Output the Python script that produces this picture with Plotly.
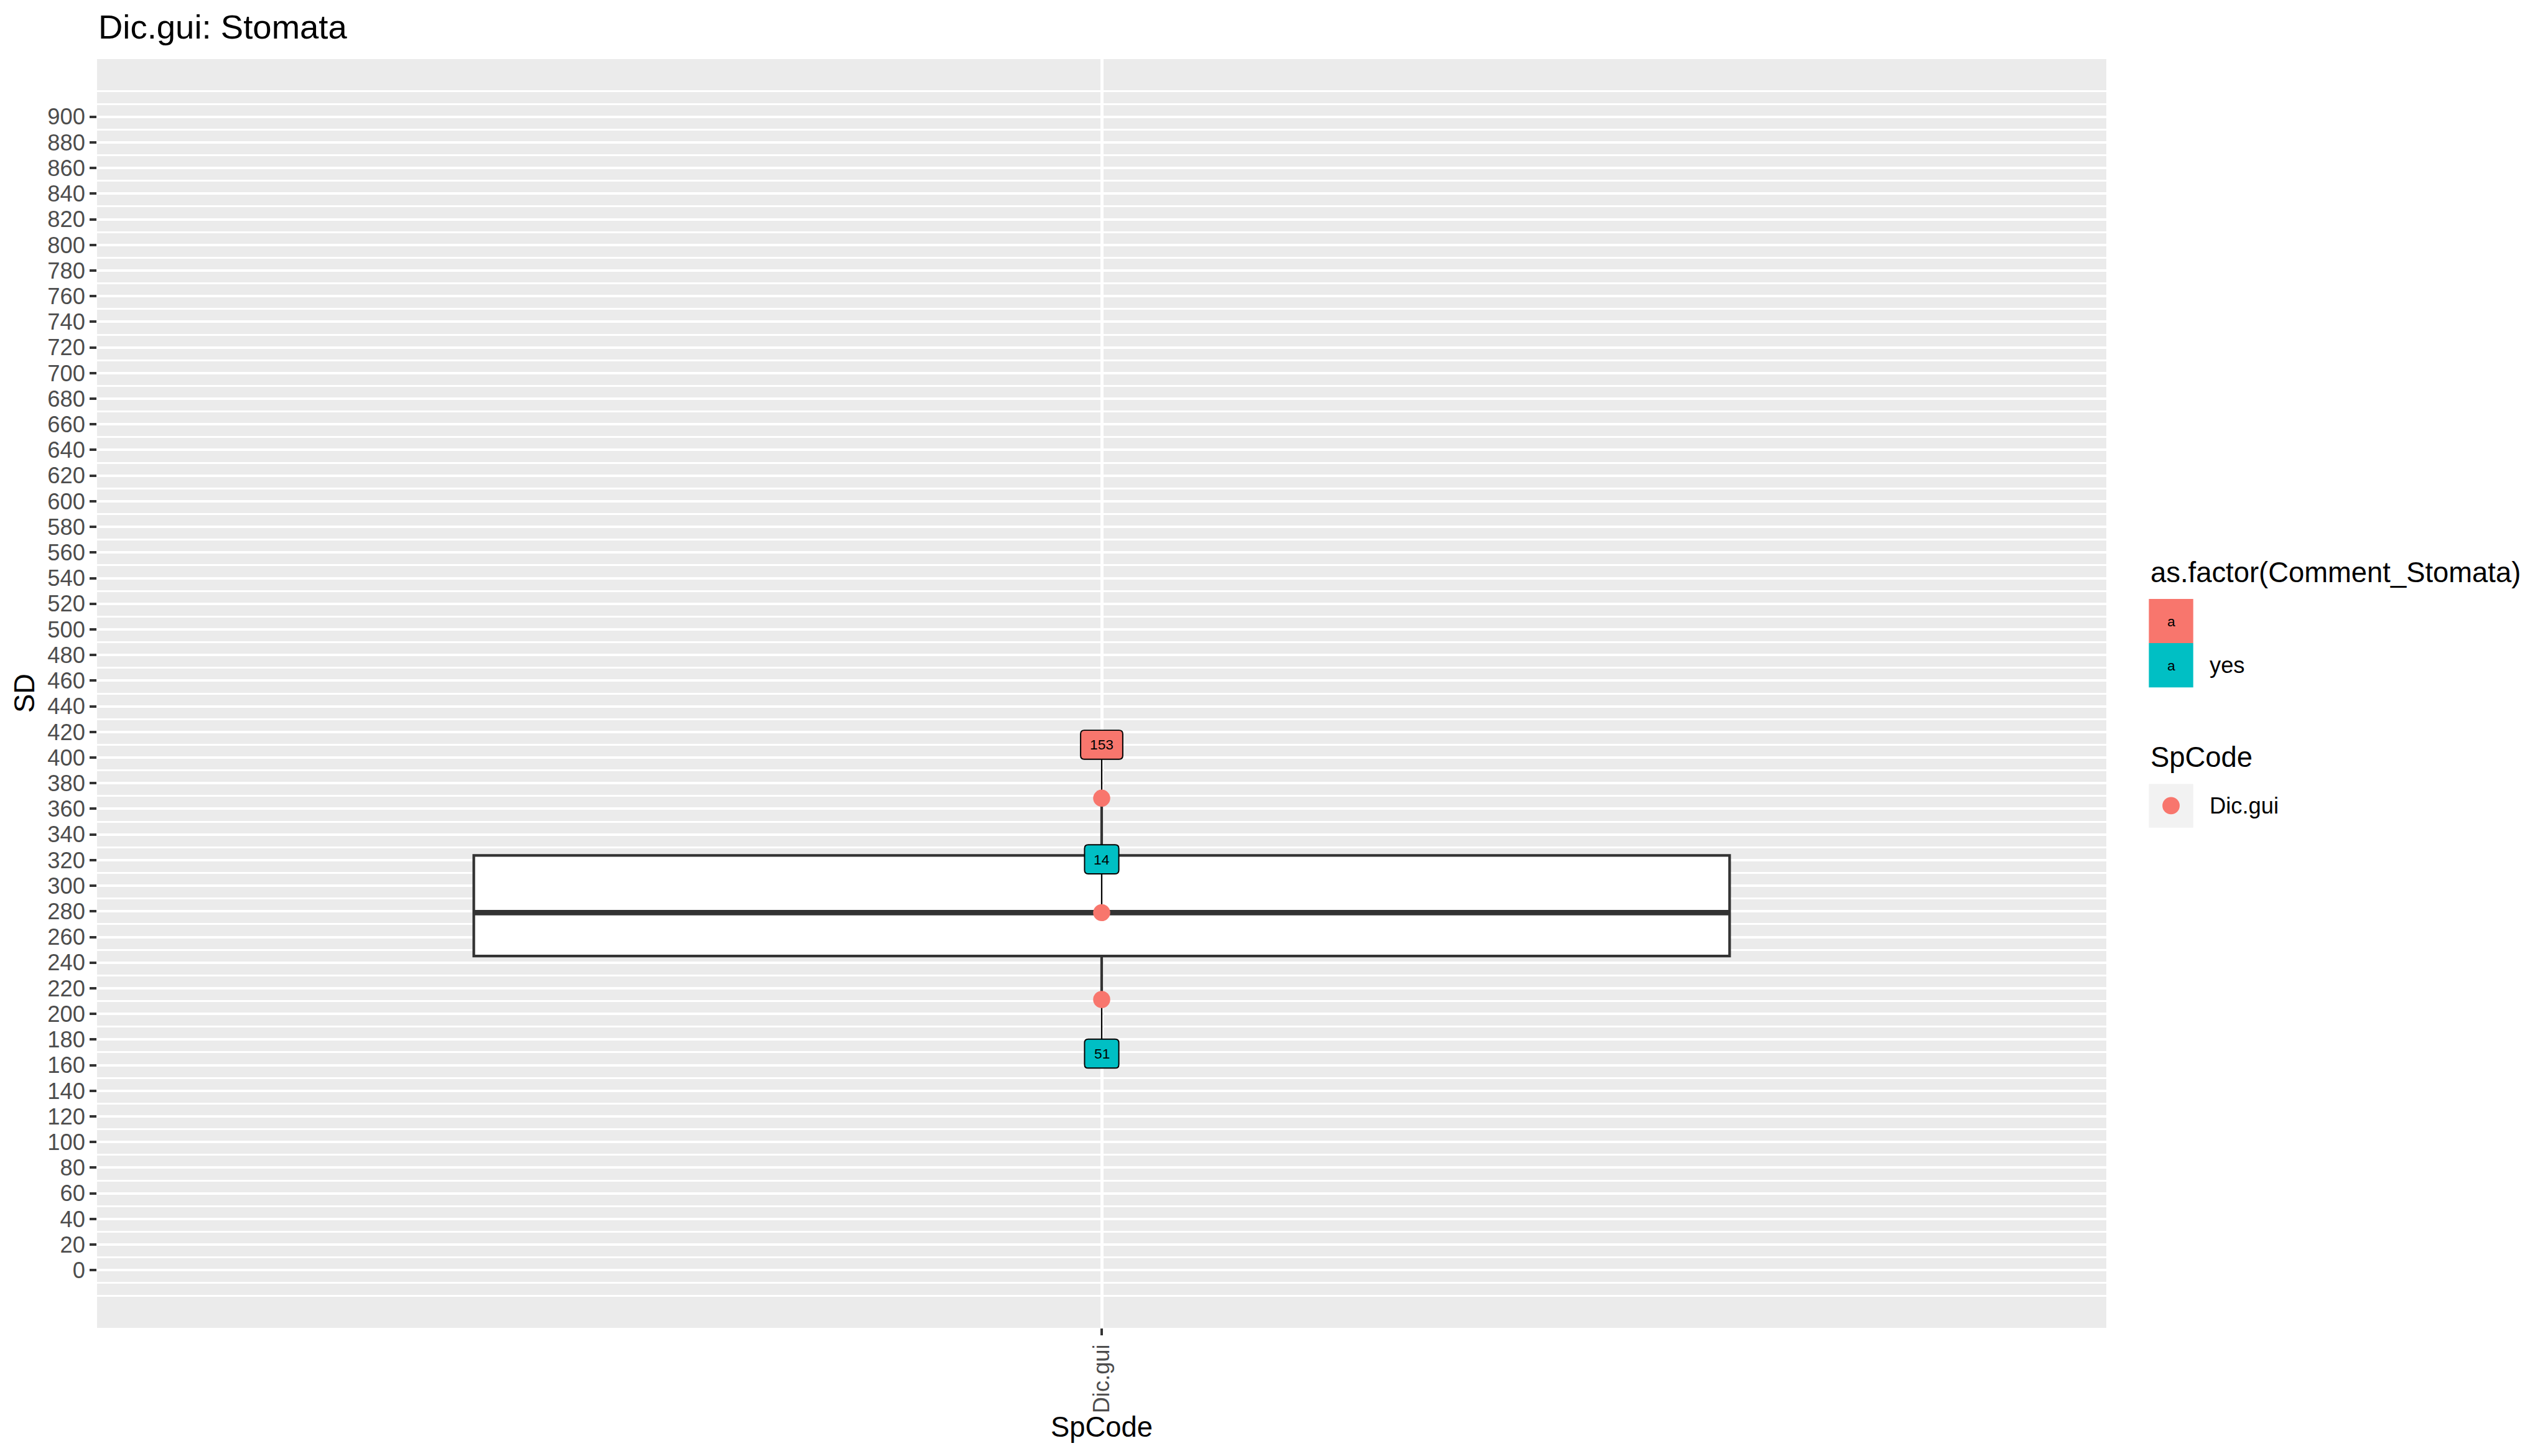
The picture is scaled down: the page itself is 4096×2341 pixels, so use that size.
import numpy as np
import plotly.graph_objects as go

# ---------------- data ----------------
species = ["Dic.gui"]
sd_values = [368.3, 279.0, 211.2]
sample_ids = ["153", "14", "51"]
comment_stomata = ["", "yes", "yes"]
label_y = [410.0, 320.6, 169.0]          # repelled label positions
comment_levels = ["", "yes"]
y_breaks = list(range(0, 901, 20))
y_minor = [-20, -10] + list(range(10, 900, 20)) + [910, 920]

# ---------------- geometry ----------------
W, H = 4096, 2341
S = 0.991
L, R, T, B = 157 * S, W - 3417 * S, 96 * S, H - 2154 * S
PW, PH = W - L - R, H - T - B

def px(x):
    return (x * S - L) / PW

def py(y):
    return (H - B - y * S) / PH

FONT = "Liberation Sans, Arial, sans-serif"
RED, CYAN = "#F8766D", "#00BFC4"
colour_map = {"": RED, "yes": CYAN}

# ---------------- box stats ----------------
v = np.array(sd_values)
q1, med, q3 = np.percentile(v, [25, 50, 75])
iqr = q3 - q1
lo = v[v >= q1 - 1.5 * iqr].min()
hi = v[v <= q3 + 1.5 * iqr].max()
box_w = 0.75

fig = go.Figure()
fig.add_trace(go.Box(
    x=[0], q1=[q1], median=[med], q3=[q3], lowerfence=[lo], upperfence=[hi],
    width=box_w, whiskerwidth=0, fillcolor="white",
    line=dict(color="#333333", width=4.3 * S), boxpoints=False,
    hoverinfo="skip", showlegend=False,
))
# thick median
fig.add_trace(go.Scatter(
    x=[-box_w / 2, box_w / 2], y=[med, med], mode="lines",
    line=dict(color="#333333", width=8.9 * S), hoverinfo="skip", showlegend=False,
))
# repel segments
seg_x, seg_y = [], []
for yl, yv in zip(label_y, sd_values):
    seg_x += [0, 0, None]
    seg_y += [yl, yv, None]
fig.add_trace(go.Scatter(
    x=seg_x, y=seg_y, mode="lines", line=dict(color="black", width=2.3 * S),
    hoverinfo="skip", showlegend=False,
))
# points
fig.add_trace(go.Scatter(
    x=[0] * len(sd_values), y=sd_values, mode="markers",
    marker=dict(color=RED, size=27.7 * S, line=dict(width=0)),
    showlegend=False,
))

shapes = []
annotations = []

# labels (rounded boxes)
lab_fs = 22.8
for txt, yl, cm in zip(sample_ids, label_y, comment_stomata):
    w = (len(txt) * 0.556 * lab_fs + 2 * 15 * S) / 2
    h = 46.6 / 2
    r = 6 * S
    path = (f"M {-w + r},{-h} L {w - r},{-h} Q {w},{-h} {w},{-h + r} "
            f"L {w},{h - r} Q {w},{h} {w - r},{h} L {-w + r},{h} "
            f"Q {-w},{h} {-w},{h - r} L {-w},{-h + r} Q {-w},{-h} {-w + r},{-h} Z")
    shapes.append(dict(
        type="path", xref="x", yref="y", xsizemode="pixel", ysizemode="pixel",
        xanchor=0, yanchor=yl, path=path, fillcolor=colour_map[cm],
        line=dict(color="black", width=2 * S), layer="above",
    ))
    annotations.append(dict(
        x=0, y=yl, xref="x", yref="y", text=txt, showarrow=False,
        font=dict(family=FONT, size=lab_fs, color="black"),
        xanchor="center", yanchor="middle",
    ))

# ---------------- legend (drawn by hand, ggplot style) ----------------
annotations.append(dict(
    x=px(3487), y=py(928.5), xref="paper", yref="paper",
    text="as.factor(Comment_Stomata)", showarrow=False,
    font=dict(family=FONT, size=45.4, color="black"),
    xanchor="left", yanchor="middle",
))
key_top = [971.7, 1043.4]
for lvl, kt in zip(comment_levels, key_top):
    shapes.append(dict(
        type="rect", xref="paper", yref="paper",
        x0=px(3486), x1=px(3558), y0=py(kt + 71.7), y1=py(kt),
        fillcolor=colour_map[lvl], line=dict(width=0), layer="above",
    ))
    annotations.append(dict(
        x=px(3522), y=py(kt + 35.8), xref="paper", yref="paper", text="a",
        showarrow=False, font=dict(family=FONT, size=lab_fs, color="black"),
        xanchor="center", yanchor="middle",
    ))
    if lvl:
        annotations.append(dict(
            x=px(3583), y=py(kt + 35.8), xref="paper", yref="paper", text=lvl,
            showarrow=False, font=dict(family=FONT, size=36.3, color="black"),
            xanchor="left", yanchor="middle",
        ))

annotations.append(dict(
    x=px(3487), y=py(1228), xref="paper", yref="paper", text="SpCode",
    showarrow=False, font=dict(family=FONT, size=45.4, color="black"),
    xanchor="left", yanchor="middle",
))
shapes.append(dict(
    type="rect", xref="paper", yref="paper",
    x0=px(3486), x1=px(3558), y0=py(1342.7), y1=py(1271.7),
    fillcolor="#F2F2F2", line=dict(width=0), layer="above",
))
dot_r = 14
shapes.append(dict(
    type="circle", xref="paper", yref="paper",
    x0=px(3522 - dot_r), x1=px(3522 + dot_r),
    y0=py(1307 + dot_r), y1=py(1307 - dot_r),
    fillcolor=RED, line=dict(width=0), layer="above",
))
annotations.append(dict(
    x=px(3583), y=py(1307), xref="paper", yref="paper", text=species[0],
    showarrow=False, font=dict(family=FONT, size=36.3, color="black"),
    xanchor="left", yanchor="middle",
))

# axis titles
annotations.append(dict(
    x=px(1787), y=py(2314.5), xref="paper", yref="paper", text="SpCode",
    showarrow=False, font=dict(family=FONT, size=45.4, color="black"),
    xanchor="center", yanchor="middle",
))
annotations.append(dict(
    x=px(39), y=py(1125), xref="paper", yref="paper", text="SD",
    showarrow=False, textangle=-90, font=dict(family=FONT, size=45.4, color="black"),
    xanchor="center", yanchor="middle",
))

fig.update_layout(
    width=W, height=H,
    margin=dict(l=L, r=R, t=T, b=B, pad=0),
    paper_bgcolor="white", plot_bgcolor="#EBEBEB",
    font=dict(family=FONT),
    title=dict(
        text="Dic.gui: Stomata", x=159.4 * S / W, xanchor="left",
        y=1 - 43.3 * S / H, yanchor="middle", xref="paper" if False else "container",
        yref="container", font=dict(family=FONT, size=54.5, color="black"),
    ),
    shapes=shapes, annotations=annotations, showlegend=False,
)
fig.update_xaxes(
    type="linear", range=[-0.6, 0.6], tickmode="array", tickvals=[0], ticktext=species,
    tickangle=-90, ticks="outside", ticklen=11 * S, tickwidth=4 * S, tickcolor="#333333",
    tickfont=dict(family=FONT, size=36.3, color="#4D4D4D"),
    showgrid=True, gridcolor="white", gridwidth=4.6 * S, zeroline=False, showline=False,
    ticklabelstandoff=0,
)
fig.update_yaxes(
    range=[-45, 945], tickmode="array", tickvals=y_breaks, ticktext=[str(b) for b in y_breaks],
    ticks="outside", ticklen=11 * S, tickwidth=4 * S, tickcolor="#333333",
    tickfont=dict(family=FONT, size=36.3, color="#4D4D4D"),
    showgrid=True, gridcolor="white", gridwidth=4 * S, zeroline=False, showline=False,
    minor=dict(tickmode="array", tickvals=y_minor, showgrid=True, gridcolor="white",
               gridwidth=2.6 * S, ticks=""),
    ticklabelstandoff=0,
)

fig.write_html("out.html")
